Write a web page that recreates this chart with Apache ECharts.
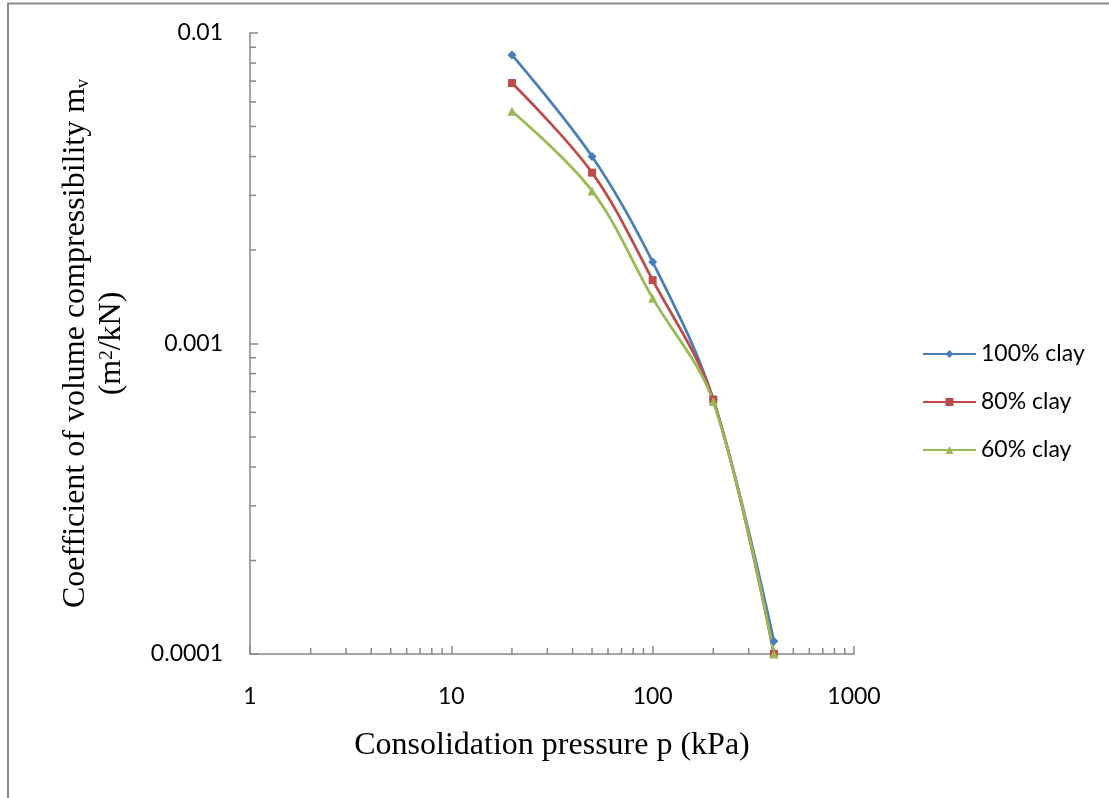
<!DOCTYPE html>
<html>
<head>
<meta charset="utf-8">
<script src="https://cdn.jsdelivr.net/npm/echarts@6/dist/echarts.min.js"></script>
<style>
html,body{margin:0;padding:0;background:#fff;}
#chart{width:1109px;height:798px;}
</style>
</head>
<body>
<div id="chart"></div>
<script>
// ---- data ----
const pressure = [20, 50, 100, 200, 400];
const clay100 = [0.0085, 0.0040, 0.00183, 0.00066, 0.00011];
const clay80  = [0.0069, 0.00355, 0.0016, 0.00066, 0.0001];
const clay60  = [0.0056, 0.0031, 0.0014, 0.00065, 0.0001];
const seriesNames = ['100% clay', '80% clay', '60% clay'];
const xTickLabels = ['1', '10', '100', '1000'];
const yTickLabels = ['0.0001', '0.001', '0.01'];
const xMinorTicks = [2,3,4,5,6,7,8,9,20,30,40,50,60,70,80,90,200,300,400,500,600,700,800,900];
const yMinorTicks = [0.0002,0.0003,0.0004,0.0005,0.0006,0.0007,0.0008,0.0009,0.002,0.003,0.004,0.005,0.006,0.007,0.008,0.009];
const xMin = 1, xMax = 1000, yMin = 0.0001, yMax = 0.01;

const axisColor = '#868686';
const sansFont = 'Lato';
const serifFont = 'Liberation Serif';

function pairs(xs, ys){ return xs.map((x,i)=>[x, ys[i]]); }

const chart = echarts.init(document.getElementById('chart'), null, {renderer:'canvas'});

const lineBase = (name, data, color, symbol, size) => ({
  name, type:'line', data: pairs(pressure, data), smooth: 0.35,
  symbol, symbolSize: size, clip:false,
  lineStyle:{color, width:2.75}, itemStyle:{color},
  emphasis:{disabled:true}
});

chart.setOption({
  animation:false,
  backgroundColor:'#fff',
  grid:{left:250, right:255, top:33, bottom:144, containLabel:false},
  legend:{
    data: seriesNames,
    orient:'vertical', left:922, top:342, padding:0,
    itemWidth:53, itemHeight:10, itemGap:24,
    textStyle:{fontFamily:sansFont, fontSize:23, color:'#000', lineHeight:24, padding:[0,0,0,0]},
    selectedMode:false
  },
  xAxis:{
    type:'log', logBase:10, min:xMin, max:xMax,
    axisLine:{show:true, lineStyle:{color:axisColor, width:1.5}},
    axisTick:{show:true, inside:true, length:8, lineStyle:{color:axisColor, width:1.5}},
    splitLine:{show:false},
    axisLabel:{margin:31, fontFamily:sansFont, fontSize:23, color:'#000',
      formatter:(v, i)=> xTickLabels[i]},
    name:'Consolidation pressure p (kPa)', nameLocation:'middle', nameGap:76,
    nameTextStyle:{fontFamily:serifFont, fontSize:32, color:'#000'}
  },
  yAxis:{
    type:'log', logBase:10, min:yMin, max:yMax,
    axisLine:{show:true, lineStyle:{color:axisColor, width:1.5}},
    axisTick:{show:true, inside:true, length:8, lineStyle:{color:axisColor, width:1.5}},
    splitLine:{show:false},
    axisLabel:{margin:27, fontFamily:sansFont, fontSize:23, color:'#000',
      formatter:(v, i)=> yTickLabels[i]},
    name:'{a|Coefficient of volume compressibility m}{s|v}\n{a|(m}{p|2}{a|/kN)}',
    nameLocation:'middle', nameRotate:90, nameGap:120,
    nameTextStyle:{fontFamily:serifFont, fontSize:32, color:'#000', lineHeight:36,
      rich:{
        a:{fontFamily:serifFont, fontSize:32, color:'#000', lineHeight:36},
        s:{fontFamily:serifFont, fontSize:18, color:'#000', lineHeight:36, verticalAlign:'bottom', padding:[0,0,2,0]},
        p:{fontFamily:serifFont, fontSize:19, color:'#000', lineHeight:36, verticalAlign:'top', padding:[4,0,0,0]}
      }}
  },
  series:[
    lineBase(seriesNames[0], clay100, '#4A7EBB', 'diamond', 9),
    lineBase(seriesNames[1], clay80, '#BE4B48', 'rect', 8),
    lineBase(seriesNames[2], clay60, '#98B954', 'triangle', 9),
    {
      type:'custom', name:'xMinor', silent:true, clip:false,
      data: xMinorTicks.map(v=>[v, yMin]),
      renderItem:(params, api)=>{
        const p = api.coord([api.value(0), yMin]);
        return {type:'line', shape:{x1:p[0], y1:p[1], x2:p[0], y2:p[1]-6},
          style:{stroke:axisColor, lineWidth:1.5}};
      }
    },
    {
      type:'custom', name:'yMinor', silent:true, clip:false,
      data: yMinorTicks.map(v=>[xMin, v]),
      renderItem:(params, api)=>{
        const p = api.coord([xMin, api.value(1)]);
        return {type:'line', shape:{x1:p[0], y1:p[1], x2:p[0]+6, y2:p[1]},
          style:{stroke:axisColor, lineWidth:1.5}};
      }
    }
  ],
  graphic:[
    {type:'rect', silent:true, z:-1, shape:{x:8, y:3.5, width:1300, height:1000},
     style:{fill:'none', stroke:'#898989', lineWidth:2}}
  ]
});
</script>
</body>
</html>
